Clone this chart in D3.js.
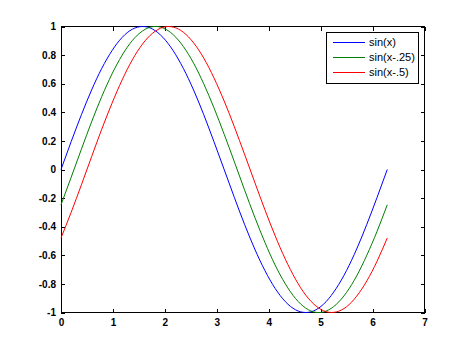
<!DOCTYPE html>
<html><head><meta charset="utf-8">
<script src="https://cdn.jsdelivr.net/npm/d3@7"></script>
<style>
html,body{margin:0;padding:0;background:#fff;}
svg{display:block;}
.tick text{font-family:"Liberation Sans",Arial,sans-serif;font-size:10px;font-weight:bold;fill:#000;}
</style>
</head><body>
<script>
// ---- data ----
const xs = [0, 0.196, 0.393, 0.589, 0.785, 0.982, 1.178, 1.374, 1.571, 1.767, 1.963, 2.160, 2.356, 2.553, 2.749, 2.945, 3.142, 3.338, 3.534, 3.731, 3.927, 4.123, 4.320, 4.516, 4.712, 4.909, 5.105, 5.301, 5.498, 5.694, 5.890, 6.087, 6.283];
const sinX = [0, 0.195, 0.383, 0.556, 0.707, 0.831, 0.924, 0.981, 1, 0.981, 0.924, 0.831, 0.707, 0.556, 0.383, 0.195, 0, -0.195, -0.383, -0.556, -0.707, -0.831, -0.924, -0.981, -1, -0.981, -0.924, -0.831, -0.707, -0.556, -0.383, -0.195, 0];
const sinXm25 = [-0.247, -0.054, 0.142, 0.333, 0.510, 0.668, 0.800, 0.902, 0.969, 0.999, 0.990, 0.943, 0.860, 0.744, 0.599, 0.432, 0.247, 0.054, -0.142, -0.333, -0.510, -0.668, -0.800, -0.902, -0.969, -0.999, -0.990, -0.943, -0.860, -0.744, -0.599, -0.432, -0.247];
const sinXm5 = [-0.479, -0.299, -0.107, 0.089, 0.282, 0.463, 0.627, 0.767, 0.878, 0.954, 0.994, 0.996, 0.960, 0.886, 0.779, 0.641, 0.479, 0.299, 0.107, -0.089, -0.282, -0.463, -0.627, -0.767, -0.878, -0.954, -0.994, -0.996, -0.960, -0.886, -0.779, -0.641, -0.479];
const seriesNames = ["sin(x)", "sin(x-.25)", "sin(x-.5)"];
const seriesColors = ["#0000ff", "#008000", "#ff0000"];
const xTicks = [0, 1, 2, 3, 4, 5, 6, 7];
const yTicks = [-1, -0.8, -0.6, -0.4, -0.2, 0, 0.2, 0.4, 0.6, 0.8, 1];

// ---- layout ----
const W = 469, H = 351;
const L = 61, R = 424.5, T = 26.5, B = 312.5;
const svg = d3.select("body").append("svg").attr("width", W).attr("height", H);
svg.append("rect").attr("width", W).attr("height", H).attr("fill", "#fff");

const x = d3.scaleLinear().domain([0, 7]).range([L, R]);
const y = d3.scaleLinear().domain([-1, 1]).range([B, T]);

const fmt = d => String(d);
const tk = 4;
svg.append("g").attr("transform", `translate(0,${B})`)
  .call(d3.axisBottom(x).tickValues(xTicks).tickFormat(fmt).tickSizeInner(-tk).tickSizeOuter(0).tickPadding(6));
svg.append("g").attr("transform", `translate(${L},0)`)
  .call(d3.axisLeft(y).tickValues(yTicks).tickFormat(fmt).tickSizeInner(-tk).tickSizeOuter(0).tickPadding(5));
svg.append("g").attr("transform", `translate(0,${T})`)
  .call(d3.axisTop(x).tickValues(xTicks).tickFormat("").tickSizeInner(-tk).tickSizeOuter(0));
svg.append("g").attr("transform", `translate(${R},0)`)
  .call(d3.axisRight(y).tickValues(yTicks).tickFormat("").tickSizeInner(-tk).tickSizeOuter(0));
svg.selectAll(".domain").remove();
svg.selectAll(".tick line").attr("stroke", "#000").attr("shape-rendering", "crispEdges");

svg.append("rect").attr("x", L).attr("y", T).attr("width", R - L).attr("height", B - T)
  .attr("fill", "none").attr("stroke", "#000").attr("shape-rendering", "crispEdges");

const data = [sinX, sinXm25, sinXm5];
const line = d3.line().x((d, i) => x(xs[i])).y(d => y(d)).curve(d3.curveNatural);
data.forEach((s, i) => {
  svg.append("path").attr("d", line(s)).attr("fill", "none")
    .attr("stroke", seriesColors[i]).attr("stroke-width", 1);
});

// legend
const lg = svg.append("g");
lg.append("rect").attr("x", 326.5).attr("y", 32.5).attr("width", 92).attr("height", 51)
  .attr("fill", "#fff").attr("stroke", "#000").attr("shape-rendering", "crispEdges");
seriesNames.forEach((n, i) => {
  const yy = 42.5 + i * 15;
  lg.append("line").attr("x1", 333).attr("x2", 365).attr("y1", yy).attr("y2", yy)
    .attr("stroke", seriesColors[i]).attr("shape-rendering", "crispEdges");
  lg.append("text").attr("x", 369).attr("y", yy).attr("dy", "0.35em")
    .attr("font-family", '"Liberation Sans",Arial,sans-serif').attr("font-size", 11)
    .attr("fill", "#000").text(n);
});
</script>
</body></html>
